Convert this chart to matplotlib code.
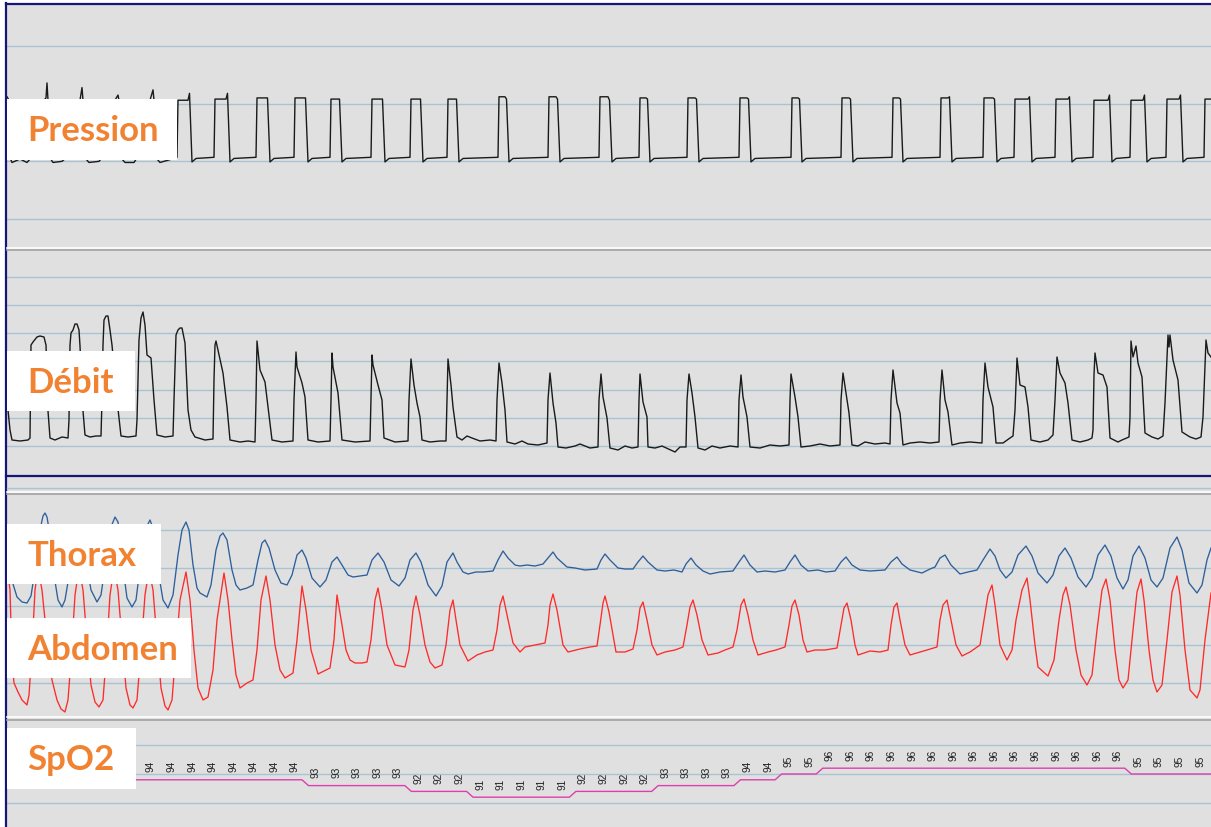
import matplotlib.pyplot as plt
import matplotlib.patches as mpatches
from matplotlib.lines import Line2D
import numpy as np

# ---- recording window (seconds) ----
T_END = 120.4

# ---- pressure (cmH2O) ----
# spontaneous efforts before the ventilator pulses start
press_pre_t = [0.0, 0.2, 0.3, 0.5, 1.3, 2.0, 2.3, 3.1, 3.7, 3.9, 4.0, 4.1, 4.3, 4.6, 5.5, 5.9,
               6.7, 7.3, 7.5, 7.6, 7.8, 8.2, 9.2, 9.5, 10.1, 10.8, 11.1, 11.2, 11.4, 11.8,
               12.7, 13.0, 13.8, 14.3, 14.6, 14.7, 14.9, 15.3, 16.1, 16.9]
press_pre_v = [10.6, 10.3, 5.3, 4.9, 5.2, 4.9, 5.2, 10.0, 10.3, 10.5, 11.8, 10.3, 5.3, 4.9, 5.0, 5.3,
               10.0, 10.3, 11.4, 10.3, 5.3, 4.9, 5.0, 5.3, 10.0, 10.3, 10.75, 10.3, 5.3, 4.9,
               4.9, 5.3, 10.0, 10.3, 11.2, 10.3, 5.3, 4.9, 5.1, 5.3]
# pressure pulses: onset, offset, plateau level and level just before release
press_on = [17.0, 20.7, 24.9, 28.7, 32.3, 36.4, 40.3, 44.0, 49.1, 54.1, 59.2, 63.2, 68.0,
            73.2, 78.4, 83.4, 88.5, 93.3, 97.6, 100.7, 104.8, 108.6, 112.3, 115.9, 119.7]
press_off = [18.4, 22.2, 26.2, 30.0, 33.4, 37.7, 41.5, 45.1, 50.1, 55.2, 60.4, 64.2, 69.1,
             74.3, 79.4, 84.5, 89.5, 94.4, 98.9, 102.4, 106.4, 110.4, 113.9, 117.5, 121.0]
press_top = [10.3, 10.4, 10.5, 10.5, 10.4, 10.4, 10.4, 10.4, 10.6, 10.6, 10.6, 10.5, 10.5,
             10.5, 10.5, 10.5, 10.5, 10.5, 10.5, 10.4, 10.4, 10.3, 10.3, 10.4, 10.4]
press_end = [10.9, 10.9, 10.5, 10.5, 10.4, 10.4, 10.4, 10.4, 10.4, 10.4, 10.3, 10.4, 10.4,
             10.4, 10.4, 10.4, 10.4, 10.6, 10.4, 10.6, 10.6, 10.75, 10.75, 10.75, 10.4]
press_base = 5.25
press_dip = 4.95

# ---- flow (raw units) ----
flow_t = [0.0, 0.3, 0.5, 1.3, 2.1,
          2.3, 2.4, 2.6, 3.0, 3.3, 3.7, 3.9, 4.1, 4.3, 4.8, 5.5, 6.1,
          6.2, 6.3, 6.4, 6.6, 6.8, 7.0, 7.2, 7.3, 7.6, 7.8, 8.3, 8.9, 9.4,
          9.5, 9.6, 9.7, 9.9, 10.1, 10.3, 10.5, 11.0, 11.4, 12.1, 12.9,
          13.0, 13.2, 13.4, 13.6, 13.8, 14.0, 14.4, 14.7, 15.0, 15.8, 16.6,
          16.7, 16.9, 17.1, 17.3, 17.5, 17.8, 18.1, 18.4, 18.8, 19.8, 20.6,
          20.7, 20.8, 20.9, 21.1, 21.6, 22.0, 22.3, 23.3, 24.1, 24.8,
          24.9, 25.0, 25.3, 25.8, 26.1, 26.5, 27.5, 28.6,
          28.7, 28.9, 29.0, 29.5, 29.8, 30.1, 31.1, 32.3,
          32.4, 32.5, 32.6, 33.1, 33.5, 34.8, 36.3,
          36.4, 36.5, 36.6, 37.1, 37.5, 37.7, 38.8, 40.1,
          40.2, 40.4, 40.7, 41.0, 41.3, 41.5, 42.3, 43.3, 43.9,
          44.0, 44.1, 44.4, 44.6, 45.0, 45.5, 46.0, 46.5, 47.3, 48.3, 48.9,
          49.0, 49.2, 49.5, 49.8, 50.0, 50.8, 51.5, 52.1, 53.1, 54.0,
          54.1, 54.3, 54.6, 54.9, 55.1, 55.9, 56.8, 57.3, 58.3, 59.1,
          59.2, 59.4, 59.6, 60.0, 60.3, 61.1, 61.8, 62.5, 63.1,
          63.2, 63.3, 63.6, 64.0, 64.1, 64.8, 65.5, 66.8, 67.3, 67.9,
          68.0, 68.2, 68.5, 68.8, 69.1, 69.8, 70.5, 71.3, 72.3, 73.1,
          73.2, 73.4, 73.6, 74.0, 74.3, 75.3, 76.3, 77.3, 78.2,
          78.3, 78.4, 78.8, 79.1, 79.4, 80.3, 81.3, 82.3, 83.3,
          83.4, 83.6, 83.9, 84.2, 84.5, 85.1, 85.8, 86.8, 87.8, 88.3,
          88.4, 88.6, 89.0, 89.3, 89.6, 90.3, 91.3, 92.3, 93.2,
          93.3, 93.5, 93.8, 94.1, 94.5, 95.3, 96.3, 97.5,
          97.6, 97.8, 98.1, 98.6, 98.9, 99.6, 100.3, 100.6,
          100.8, 101.0, 101.3, 101.8, 102.1, 102.4, 103.3, 104.1, 104.6,
          104.8, 105.0, 105.3, 105.8, 106.1, 106.5, 107.3, 108.1, 108.5,
          108.6, 108.7, 108.8, 109.1, 109.6, 110.0, 110.3, 111.1, 111.5, 112.2,
          112.3, 112.4, 112.6, 112.9, 113.1, 113.5, 113.8, 114.5, 115.1, 115.6,
          115.8, 116.1, 116.2, 116.3, 116.6, 117.1, 117.5, 118.3, 118.9, 119.4,
          119.6, 119.9, 120.1, 120.4]
flow_v = [46, 16, 6, 5, 6,
          8, 101, 104, 109, 110, 109, 101, 35, 8, 6, 9, 8,
          26, 101, 113, 116, 122, 122, 116, 100, 35, 11, 9, 10, 10,
          46, 101, 126, 130, 130, 116, 101, 46, 10, 9, 10,
          26, 106, 128, 134, 121, 91, 88, 46, 11, 9, 10,
          46, 111, 116, 118, 118, 103, 36, 16, 9, 6, 7,
          66, 101, 105, 96, 73, 39, 6, 4, 5, 4,
          46, 105, 76, 64, 39, 6, 4, 5,
          46, 94, 79, 63, 49, 6, 4, 5,
          46, 93, 79, 53, 6, 4, 5,
          46, 91, 81, 61, 46, 8, 4, 5,
          46, 87, 61, 43, 29, 6, 4, 5, 5,
          46, 87, 61, 39, 9, 6, 10, 8, 5, 6, 5,
          46, 83, 63, 36, 4, 2, 5, 2, 1, 3,
          46, 73, 43, 23, -1, -2, 0, 2, -2, -1,
          46, 72, 49, 28, -2, -4, 0, -2, -1,
          46, 72, 44, 29, -1, -2, 0, -6, -1, -1,
          46, 72, 53, 29, -2, -4, 0, -2, 0, -1,
          46, 71, 49, 29, -1, -2, 1, 0, 1,
          46, 72, 49, 29, -1, 0, 2, 0, 1,
          46, 73, 53, 33, 1, 0, 4, 2, 3, 2,
          46, 76, 43, 33, 1, 3, 4, 3, 4,
          46, 76, 46, 34, 1, 3, 4, 3,
          46, 83, 59, 39, 3, 3, 8, 10,
          36, 88, 61, 59, 39, 6, 4, 6, 11,
          46, 89, 73, 63, 43, 6, 4, 6, 8,
          16, 71, 93, 73, 71, 59, 8, 4, 6, 9,
          29, 105, 89, 100, 83, 69, 13, 9, 7, 10,
          43, 111, 99, 111, 86, 66, 14, 9, 7, 9,
          29, 106, 93, 89]

# ---- thoracic belt (raw units) ----
thorax_t = [0.0, 0.3, 0.6, 1.0, 1.5, 2.0, 2.4, 2.8, 3.3, 3.6, 3.8, 4.0, 4.3, 4.7, 5.1, 5.5,
            5.8, 6.3, 6.9, 7.3, 7.9, 8.4, 9.0, 9.4, 9.9, 10.4, 10.8, 11.1, 11.5, 12.0, 12.5,
            12.9, 13.4, 13.9, 14.3, 14.6, 15.1, 15.6, 16.1, 16.6, 17.1, 17.5, 17.9, 18.2,
            18.6, 19.0, 19.3, 20.0, 20.4, 20.9, 21.3, 21.6, 22.0, 22.5, 22.9, 23.3, 24.0,
            24.6, 25.1, 25.5, 25.8, 26.2, 26.8, 27.4, 28.0, 28.5, 29.0, 29.5, 29.9, 30.5,
            31.3, 31.9, 32.5, 33.0, 33.5, 34.1, 34.6, 35.3, 36.0, 36.5, 37.1, 37.7, 38.4,
            39.2, 39.8, 40.3, 40.9, 41.4, 42.1, 42.9, 43.5, 44.0, 44.6, 45.0, 45.6, 46.1,
            46.9, 47.6, 48.6, 49.1, 49.6, 50.1, 50.8, 51.3, 52.0, 52.8, 53.6, 54.1, 54.6,
            55.0, 56.0, 56.8, 57.8, 59.0, 59.4, 59.8, 60.3, 61.1, 61.8, 62.6, 63.1, 63.6,
            64.1, 65.0, 65.8, 66.7, 67.5, 67.9, 68.4, 68.9, 69.6, 70.3, 71.3, 72.6, 73.2,
            73.7, 74.3, 75.0, 75.8, 76.8, 77.8, 78.3, 78.8, 79.4, 80.1, 81.1, 81.9, 82.8,
            83.4, 83.9, 84.5, 85.3, 86.3, 87.8, 88.4, 89.0, 89.5, 90.3, 91.5, 92.3, 92.8,
            93.3, 93.8, 94.4, 95.3, 96.1, 97.0, 97.6, 98.3, 98.8, 99.3, 99.9, 100.5, 101.1,
            101.9, 102.5, 103.1, 104.0, 104.6, 105.2, 105.8, 106.4, 107.1, 107.9, 108.5,
            109.1, 109.8, 110.4, 111.0, 111.6, 112.1, 112.6, 113.2, 113.8, 114.4, 115.0,
            115.6, 116.3, 117.0, 117.5, 118.2, 119.0, 119.5, 120.0, 120.4]
thorax_v = [135, 143, 99, 86, 81, 80, 87, 113, 153, 167, 170, 166, 148, 108, 83, 76,
            83, 113, 143, 148, 123, 93, 81, 88, 123, 156, 166, 161, 123, 85, 76,
            83, 123, 155, 163, 155, 113, 83, 75, 88, 128, 153, 161, 153,
            118, 95, 90, 86, 98, 133, 147, 150, 143, 113, 98, 93, 95,
            98, 123, 140, 143, 135, 113, 100, 98, 108, 128, 133, 125, 105,
            96, 103, 121, 126, 118, 108, 106, 107, 108, 123, 130, 121, 103,
            97, 105, 123, 130, 121, 98, 87, 97, 121, 130, 121, 111, 109,
            111, 111, 112, 123, 132, 125, 118, 117, 118, 117, 119, 125, 131,
            125, 116, 115, 113, 114, 123, 129, 123, 115, 114, 114, 121, 127,
            121, 113, 112, 113, 111, 119, 125, 118, 112, 109, 111, 112, 121,
            128, 118, 111, 112, 111, 113, 121, 128, 118, 112, 113, 111, 112,
            121, 126, 118, 113, 112, 113, 121, 126, 119, 113, 110, 114, 116,
            125, 128, 118, 109, 111, 113, 123, 134, 127, 113, 105, 111, 128,
            137, 127, 110, 100, 108, 127, 135, 125, 106, 96, 105,
            128, 138, 127, 105, 94, 103, 127, 137, 125, 103, 96,
            105, 135, 146, 133, 100, 90, 98, 123, 135]

# ---- abdominal belt (raw units) ----
abdomen_t = [0.0, 0.3, 0.5, 0.7, 1.1, 1.5, 2.0, 2.2, 2.5, 2.8, 3.1, 3.5, 4.0, 4.5, 5.0, 5.4,
             5.8, 6.1, 6.4, 6.8, 7.2, 7.6, 8.0, 8.4, 8.8, 9.2, 9.6, 9.9, 10.3, 10.7, 11.1,
             11.5, 11.9, 12.3, 12.6, 13.0, 13.4, 13.8, 14.2, 14.6, 15.0, 15.4, 15.8, 16.1,
             16.5, 16.9, 17.3, 17.9, 18.3, 18.7, 19.1, 19.6, 20.1, 20.6, 21.0, 21.7, 22.1,
             22.5, 22.9, 23.3, 24.0, 24.6, 25.0, 25.4, 25.9, 26.3, 26.8, 27.3, 27.8, 28.6,
             29.0, 29.5, 29.9, 30.4, 31.1, 31.9, 32.3, 32.7, 33.0, 33.5, 33.9, 34.3, 34.8,
             35.5, 36.0, 36.4, 36.8, 37.1, 37.5, 38.0, 38.8, 39.8, 40.2, 40.6, 40.9, 41.3,
             41.8, 42.3, 42.8, 43.5, 43.9, 44.3, 44.6, 44.9, 45.3, 46.1, 47.0, 47.8, 48.6,
             49.0, 49.3, 49.6, 50.0, 50.6, 51.3, 51.8, 52.8, 53.8, 54.1, 54.3, 54.6, 55.0,
             55.6, 56.1, 57.3, 58.3, 59.0, 59.3, 59.6, 59.8, 60.2, 60.9, 61.8, 62.6, 63.0,
             63.3, 63.6, 64.0, 64.5, 65.0, 65.8, 66.8, 67.6, 68.0, 68.3, 68.6, 69.0, 69.5,
             70.1, 71.1, 71.8, 72.6, 73.0, 73.4, 73.7, 74.1, 74.6, 75.1, 76.1, 76.9, 77.8,
             78.2, 78.5, 78.8, 79.2, 79.6, 80.0, 80.8, 81.8, 83.0, 83.4, 83.7, 84.0, 84.4,
             84.8, 85.1, 86.3, 87.3, 88.1, 88.4, 88.7, 89.0, 89.3, 89.8, 90.3, 91.3, 92.3,
             93.0, 93.3, 93.6, 94.0, 94.4, 94.9, 95.5, 96.3, 97.3, 97.7, 98.1, 98.5, 98.8,
             99.3, 100.0, 100.5, 100.9, 101.5, 102.0, 102.3, 102.8, 103.1, 104.1, 104.7,
             105.2, 105.6, 105.9, 106.3, 106.9, 107.4, 108.0, 108.5, 109.0, 109.5, 109.9,
             110.3, 110.8, 111.2, 111.6, 112.1, 112.6, 113.0, 113.4, 113.7, 114.2, 114.6,
             115.0, 115.5, 116.0, 116.5, 117.0, 117.3, 117.8, 118.3, 119.0, 119.3, 119.8,
             120.4]
abdomen_v = [118, 93, 23, 0, -9, -17, -22, -12, 33, 93, 115, 93, 43, 3, -17, -26,
             -29, -17, 23, 88, 115, 93, 43, -2, -19, -24, -17, 23, 88, 115, 93,
             43, -5, -22, -25, -17, 33, 88, 113, 93, 43, -5, -23, -27,
             -17, 33, 83, 111, 83, 33, -5, -17, -14, 13, 63, 110, 83,
             43, 8, -5, 0, 3, 33, 83, 107, 83, 38, 13, 5, 10,
             43, 97, 73, 33, 9, 13, 15, 43, 88, 58, 33, 23, 20,
             20, 21, 43, 83, 95, 73, 38, 18, 16, 33, 73, 87, 68,
             38, 21, 15, 18, 38, 73, 83, 63, 38, 22, 28, 31, 33,
             53, 78, 87, 68, 40, 31, 36, 38, 40, 58, 78, 89, 73,
             38, 31, 34, 36, 37, 58, 80, 87, 71, 31, 31, 34, 53,
             75, 81, 63, 38, 28, 31, 33, 36, 58, 76, 83, 68, 43,
             28, 30, 33, 36, 53, 78, 84, 68, 43, 28, 31, 33, 36,
             58, 77, 83, 68, 43, 31, 33, 33, 35, 58, 75, 80, 63,
             38, 28, 32, 31, 33, 58, 76, 80, 63, 38, 28, 31, 34,
             36, 63, 78, 83, 63, 38, 27, 31, 38, 63, 88, 98, 78,
             38, 23, 33, 63, 93, 105, 83, 38, 16, 7, 23,
             63, 88, 96, 78, 33, 8, -2, 8, 53, 93, 104,
             83, 33, 3, -5, 3, 53, 91, 104, 83, 33, 3,
             -9, -2, 43, 91, 107, 88, 33, -7, -15, -7, 43,
             90]

# ---- SpO2 (%), one reading per sample ----
spo2 = [94, 94, 94, 94, 94, 94, 94, 94, 93, 93, 93, 93, 93, 92, 92, 92, 91, 91, 91, 91,
        91, 92, 92, 92, 92, 93, 93, 93, 93, 94, 94, 95, 95, 96, 96, 96, 96, 96, 96, 96,
        96, 96, 96, 96, 96, 96, 96, 96, 95, 95, 95, 95]
spo2_t0 = 14.4
spo2_dt = 2.057

labels = ['Pression', 'Débit', 'Thorax', 'Abdomen', 'SpO2']

# ---- layout (pixels) ----
W, H = 1211, 827
BG = '#e0e0e0'
GRID = '#a9c3d3'
NAVY = '#16167a'
SEP = '#a2a2a2'
ORANGE = '#f08232'
label_boxes = [(7, 177, 99, 160), (7, 135, 351, 411), (7, 161, 524, 584),
               (7, 191, 618, 678), (7, 136, 728, 789)]

fig = plt.figure(figsize=(W / 100, H / 100), dpi=100)
fig.patch.set_facecolor('white')


def fx(x):
    return x / W


def fy(y):
    return 1 - y / H


def hline(y, color, lw, x0=6):
    fig.add_artist(Line2D([fx(x0), 1], [fy(y), fy(y)], color=color, lw=lw,
                          transform=fig.transFigure, zorder=3))


def panel(top, bottom, ylim, grid):
    ax = fig.add_axes([fx(7), fy(bottom), 1 - fx(7), fy(top) - fy(bottom)])
    ax.set_facecolor(BG)
    ax.set_xlim(0, T_END)
    ax.set_ylim(*ylim)
    ax.set_xticks([])
    ax.set_yticks([])
    for s in ax.spines.values():
        s.set_visible(False)
    for g in grid:
        ax.axhline(g, color=GRID, lw=1.0, zorder=1)
    return ax


# grey background of the whole display
fig.add_artist(mpatches.Rectangle((fx(6), 0), 1 - fx(6), fy(4), transform=fig.transFigure,
                                  facecolor=BG, edgecolor='none', zorder=0))

ax_p = panel(5, 247, (-2.43, 18.56), [0, 5, 10, 15])
ax_f = panel(251, 475, (-29, 195), np.arange(0, 170, 28.2))
ax_r = panel(495, 717, (-34, 188), np.arange(0, 160, 38.3))
ax_s = panel(720, 827, (85.86, 104.31), [90, 95, 100])

# pressure trace: spontaneous part, then square pulses
press_t, press_v = list(press_pre_t), list(press_pre_v)
for on, off, top, end in zip(press_on, press_off, press_top, press_end):
    press_t += [on, on + 0.1, off - 0.3, off - 0.15, off + 0.1, off + 0.5]
    press_v += [press_base + 0.1, top, top, end, press_dip, press_base]
ax_p.plot(press_t, press_v, color='#1a1a1a', lw=1.0, zorder=2)

ax_f.plot(flow_t, flow_v, color='#1a1a1a', lw=1.0, zorder=2)

ax_r.plot(thorax_t, thorax_v, color='#2d5f9b', lw=0.95, zorder=2)
ax_r.plot(abdomen_t, abdomen_v, color='#ff2a2a', lw=0.95, zorder=2)

# SpO2: level line with short ramps between readings, value printed at each sample
spo2_t = spo2_t0 + spo2_dt * np.arange(len(spo2))
line_t, line_v = [0.0], [spo2[0]]
for i in range(len(spo2) - 1):
    if spo2[i + 1] != spo2[i]:
        line_t += [spo2_t[i] + 0.7, spo2_t[i] + 1.35]
        line_v += [spo2[i], spo2[i + 1]]
line_t.append(T_END)
line_v.append(spo2[-1])
ax_s.plot(line_t, line_v, color='#dd3fae', lw=1.0, zorder=2)
for t, v in zip(spo2_t, spo2):
    ax_s.annotate(str(v), (t, v), xytext=(0, 9.4), textcoords='offset points',
                  rotation=90, ha='center', va='center', fontsize=7.3,
                  family=['Liberation Sans', 'DejaVu Sans'], color='#222222')

# frame and separators between the channel groups
hline(4, NAVY, 1.6)
fig.add_artist(Line2D([fx(6), fx(6)], [fy(3), 0], color=NAVY, lw=1.6,
                      transform=fig.transFigure, zorder=3))
hline(247.5, 'white', 1.2, 7)
hline(250, SEP, 1.2, 7)
hline(476, NAVY, 1.6)
hline(488, GRID, 1.0, 7)
hline(492, 'white', 1.2, 7)
hline(494, SEP, 1.2, 7)
hline(717, 'white', 1.2, 7)
hline(719.5, SEP, 1.2, 7)

# channel name tags
for name, (x0, x1, y0, y1) in zip(labels, label_boxes):
    fig.add_artist(mpatches.Rectangle((fx(x0), fy(y1)), fx(x1) - fx(x0), fy(y0) - fy(y1),
                                      transform=fig.transFigure, facecolor='white',
                                      edgecolor='none', zorder=4))
    fig.text(fx(x0 + 20), fy(y0 + 42), name, fontsize=25, fontweight='bold',
             family=['Lato', 'DejaVu Sans'], color=ORANGE, ha='left', va='baseline',
             zorder=5)

fig.savefig('out.png', dpi=100, facecolor=fig.get_facecolor())
